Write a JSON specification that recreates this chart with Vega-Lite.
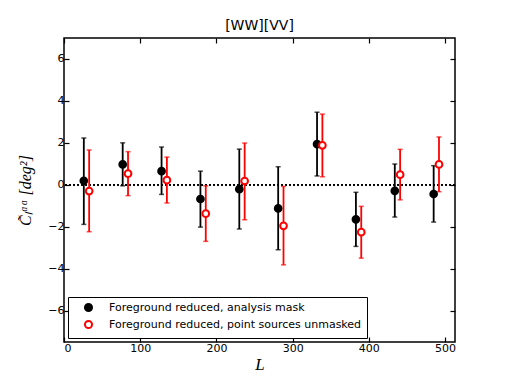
{
  "$schema": "https://vega.github.io/schema/vega-lite/v6.json",
  "width": 391,
  "height": 304,
  "autosize": {"type": "none"},
  "padding": {"left": 64, "top": 38, "right": 51, "bottom": 40},
  "background": "white",
  "title": {"text": "[WW][VV]", "font": "DejaVu Sans", "fontSize": 14, "fontWeight": "normal", "color": "black", "offset": 4},
  "data": {"values": [
    {"L": 26, "C": 0.19, "lo": -1.89, "hi": 2.23, "series": "Foreground reduced, analysis mask"},
    {"L": 77, "C": 0.97, "lo": -0.05, "hi": 2.0, "series": "Foreground reduced, analysis mask"},
    {"L": 128, "C": 0.65, "lo": -0.46, "hi": 1.8, "series": "Foreground reduced, analysis mask"},
    {"L": 179, "C": -0.68, "lo": -2.02, "hi": 0.65, "series": "Foreground reduced, analysis mask"},
    {"L": 230, "C": -0.21, "lo": -2.11, "hi": 1.7, "series": "Foreground reduced, analysis mask"},
    {"L": 281, "C": -1.13, "lo": -3.1, "hi": 0.86, "series": "Foreground reduced, analysis mask"},
    {"L": 332, "C": 1.94, "lo": 0.42, "hi": 3.46, "series": "Foreground reduced, analysis mask"},
    {"L": 383, "C": -1.65, "lo": -2.94, "hi": -0.36, "series": "Foreground reduced, analysis mask"},
    {"L": 434, "C": -0.29, "lo": -1.54, "hi": 0.99, "series": "Foreground reduced, analysis mask"},
    {"L": 485, "C": -0.44, "lo": -1.78, "hi": 0.91, "series": "Foreground reduced, analysis mask"},
    {"L": 33, "C": -0.3, "lo": -2.24, "hi": 1.66, "series": "Foreground reduced, point sources unmasked"},
    {"L": 84, "C": 0.53, "lo": -0.52, "hi": 1.58, "series": "Foreground reduced, point sources unmasked"},
    {"L": 135, "C": 0.22, "lo": -0.87, "hi": 1.32, "series": "Foreground reduced, point sources unmasked"},
    {"L": 186, "C": -1.38, "lo": -2.7, "hi": -0.05, "series": "Foreground reduced, point sources unmasked"},
    {"L": 237, "C": 0.18, "lo": -1.67, "hi": 1.99, "series": "Foreground reduced, point sources unmasked"},
    {"L": 288, "C": -1.96, "lo": -3.82, "hi": -0.08, "series": "Foreground reduced, point sources unmasked"},
    {"L": 339, "C": 1.88, "lo": 0.38, "hi": 3.37, "series": "Foreground reduced, point sources unmasked"},
    {"L": 390, "C": -2.26, "lo": -3.5, "hi": -1.03, "series": "Foreground reduced, point sources unmasked"},
    {"L": 441, "C": 0.48, "lo": -0.72, "hi": 1.69, "series": "Foreground reduced, point sources unmasked"},
    {"L": 492, "C": 0.97, "lo": -0.33, "hi": 2.28, "series": "Foreground reduced, point sources unmasked"}
  ]},
  "resolve": {"axis": {"x": "independent", "y": "independent"}},
  "layer": [
    {
      "mark": {"type": "rule", "strokeDash": [1.2, 2.8], "strokeWidth": 1.3, "color": "black"},
      "encoding": {
        "y": {"datum": 0, "type": "quantitative", "axis": {"orient": "right", "labels": false, "title": null, "values": [-6, -4, -2, 0, 2, 4, 6]}}
      }
    },
    {
      "mark": {"type": "rule", "strokeWidth": 1.8},
      "encoding": {
        "x": {"field": "L", "type": "quantitative", "scale": {"domain": [0, 513], "nice": false, "zero": false},
          "axis": {"orient": "top", "labels": false, "title": null, "values": [0, 100, 200, 300, 400, 500]}},
        "y": {"field": "lo", "type": "quantitative", "axis": null},
        "y2": {"field": "hi"},
        "color": {"field": "series", "type": "nominal", "scale": {"range": ["black", "red"]}, "legend": null}
      }
    },
    {
      "mark": {"type": "tick", "orient": "horizontal", "size": 5, "thickness": 1.5},
      "encoding": {
        "x": {"field": "L", "type": "quantitative", "axis": null},
        "y": {"field": "lo", "type": "quantitative", "axis": null},
        "color": {"field": "series", "type": "nominal", "legend": null}
      }
    },
    {
      "mark": {"type": "tick", "orient": "horizontal", "size": 5, "thickness": 1.5},
      "encoding": {
        "x": {"field": "L", "type": "quantitative", "axis": null},
        "y": {"field": "hi", "type": "quantitative", "axis": null},
        "color": {"field": "series", "type": "nominal", "legend": null}
      }
    },
    {
      "mark": {"type": "point", "shape": "circle", "filled": false, "size": 45, "strokeWidth": 2, "opacity": 1},
      "encoding": {
        "x": {"field": "L", "type": "quantitative", "title": "L",
          "axis": {"orient": "bottom", "values": [0, 100, 200, 300, 400, 500], "titleFont": "Liberation Serif", "titleFontStyle": "italic", "titleFontSize": 17, "titleFontWeight": "normal", "titlePadding": 3}},
        "y": {"field": "C", "type": "quantitative", "scale": {"domain": [-7.5, 7], "nice": false, "zero": false}, "title": "C̃ₗᵅᵅ [deg²]",
          "axis": {"orient": "left", "values": [-6, -4, -2, 0, 2, 4, 6], "titleFont": "Liberation Serif", "titleFontStyle": "italic", "titleFontSize": 16, "titleFontWeight": "normal", "titlePadding": 14}},
        "fill": {"field": "series", "type": "nominal", "scale": {"range": ["black", "white"]},
          "legend": {"title": null, "orient": "none", "legendX": 4, "legendY": 259}},
        "stroke": {"field": "series", "type": "nominal", "scale": {"range": ["black", "red"]},
          "legend": {"title": null, "orient": "none", "legendX": 4, "legendY": 259}}
      }
    }
  ],
  "config": {
    "view": {"stroke": "black", "strokeWidth": 1.5},
    "axis": {
      "grid": false, "domain": false,
      "ticks": true, "tickSize": -5, "tickColor": "black", "tickWidth": 1.2,
      "labelFont": "DejaVu Sans", "labelFontSize": 11, "labelColor": "black", "labelPadding": 5,
      "titleColor": "black"
    },
    "legend": {
      "strokeColor": "black", "fillColor": "white", "padding": 5, "cornerRadius": 0,
      "symbolOffset": 10, "symbolSize": 50, "symbolStrokeWidth": 2, "symbolType": "circle",
      "labelFont": "DejaVu Sans", "labelFontSize": 11, "labelColor": "black", "labelOffset": 15,
      "rowPadding": 0, "labelLimit": 400
    }
  }
}
